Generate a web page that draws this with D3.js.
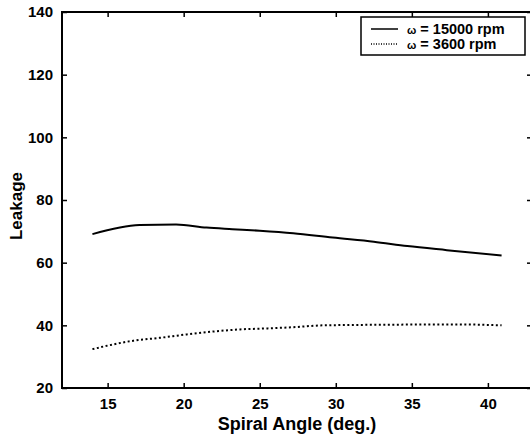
<!DOCTYPE html>
<html>
<head>
<meta charset="utf-8">
<script src="https://cdn.jsdelivr.net/npm/d3@7"></script>
<style>
  body { margin: 0; background: #fff; }
  text { font-family: "Liberation Sans", Arial, sans-serif; font-weight: bold; fill: #000; }
</style>
</head>
<body>
<svg id="chart"></svg>
<script>
// spiral angle (deg.) sampled along the curves
const angleHigh = [14.0, 17.1, 19.5, 21.5, 23.2, 25.0, 27.2, 29.8, 32.5, 34.7, 37.3, 40.9];
const leakHigh  = [69.1, 72.0, 72.2, 71.2, 70.7, 70.2, 69.4, 68.0, 66.7, 65.3, 64.0, 62.3];

const angleLow = [14.0, 16.7, 18.4, 20.2, 21.9, 23.7, 25.4, 27.2, 29.2, 33.6, 37.9, 40.9];
const leakLow  = [32.4, 35.1, 36.0, 37.1, 38.0, 38.7, 39.0, 39.4, 40.0, 40.2, 40.3, 40.0];

const xTicks = [15, 20, 25, 30, 35, 40];
const yTicks = [20, 40, 60, 80, 100, 120, 140];
const legendLabels = ['15000 rpm', '3600 rpm'];

const W = 530, H = 437;
const margin = { top: 12, right: -2, bottom: 49, left: 62 };
const width = W - margin.left - margin.right;
const height = H - margin.top - margin.bottom;

const svg = d3.select('#chart')
    .attr('width', W)
    .attr('height', H);

const g = svg.append('g')
    .attr('transform', `translate(${margin.left}, ${margin.top})`);

const x = d3.scaleLinear().domain([12, 42.9]).range([0, width]);
const y = d3.scaleLinear().domain([20, 140]).range([height, 0]);

// axes, ticks pointing inward
const styleAxis = sel => {
    sel.select('.domain').remove();
    sel.selectAll('line').attr('stroke', '#000').attr('stroke-width', 1.5);
    sel.selectAll('text').style('font-size', '15px');
};

g.append('g')
    .attr('transform', `translate(0, ${height})`)
    .call(d3.axisBottom(x).tickValues(xTicks).tickSize(-5).tickPadding(10))
    .call(styleAxis);

g.append('g')
    .call(d3.axisTop(x).tickValues(xTicks).tickSize(-5).tickFormat(''))
    .call(styleAxis);

g.append('g')
    .call(d3.axisLeft(y).tickValues(yTicks).tickSize(-5).tickPadding(9))
    .call(styleAxis);

g.append('g')
    .attr('transform', `translate(${width}, 0)`)
    .call(d3.axisRight(y).tickValues(yTicks).tickSize(-5).tickFormat(''))
    .call(styleAxis);

// frame
g.append('rect')
    .attr('width', width)
    .attr('height', height)
    .attr('fill', 'none')
    .attr('stroke', '#000')
    .attr('stroke-width', 2);

// lines
const line = d3.line()
    .x(d => x(d[0]))
    .y(d => y(d[1]))
    .curve(d3.curveMonotoneX);

g.append('path')
    .datum(d3.zip(angleHigh, leakHigh))
    .attr('fill', 'none')
    .attr('stroke', '#000')
    .attr('stroke-width', 2)
    .attr('d', line);

g.append('path')
    .datum(d3.zip(angleLow, leakLow))
    .attr('fill', 'none')
    .attr('stroke', '#000')
    .attr('stroke-width', 2)
    .attr('stroke-dasharray', '2,2.5')
    .attr('d', line);

// axis titles
svg.append('text')
    .attr('x', margin.left + width / 2)
    .attr('y', 430)
    .attr('text-anchor', 'middle')
    .style('font-size', '18px')
    .text('Spiral Angle (deg.)');

svg.append('text')
    .attr('transform', 'translate(22, 206) rotate(-90)')
    .attr('text-anchor', 'middle')
    .style('font-size', '17px')
    .text('Leakage');

// legend
const legend = svg.append('g');
legend.append('rect')
    .attr('x', 361).attr('y', 17)
    .attr('width', 164).attr('height', 38)
    .attr('fill', '#fff')
    .attr('stroke', '#000')
    .attr('stroke-width', 1.5);

legendLabels.forEach((lab, i) => {
    const ly = 29 + i * 15;
    legend.append('line')
        .attr('x1', 371).attr('x2', 398)
        .attr('y1', ly).attr('y2', ly)
        .attr('stroke', '#000')
        .attr('stroke-width', 1.5)
        .attr('stroke-dasharray', i === 0 ? null : '1,1.5');
    const t = legend.append('text')
        .attr('x', 407)
        .attr('y', ly + 4.5)
        .style('font-size', '14.5px');
    t.append('tspan').style('font-size', '11px').text('ω');
    t.append('tspan').text(' = ' + lab);
});
</script>
</body>
</html>
